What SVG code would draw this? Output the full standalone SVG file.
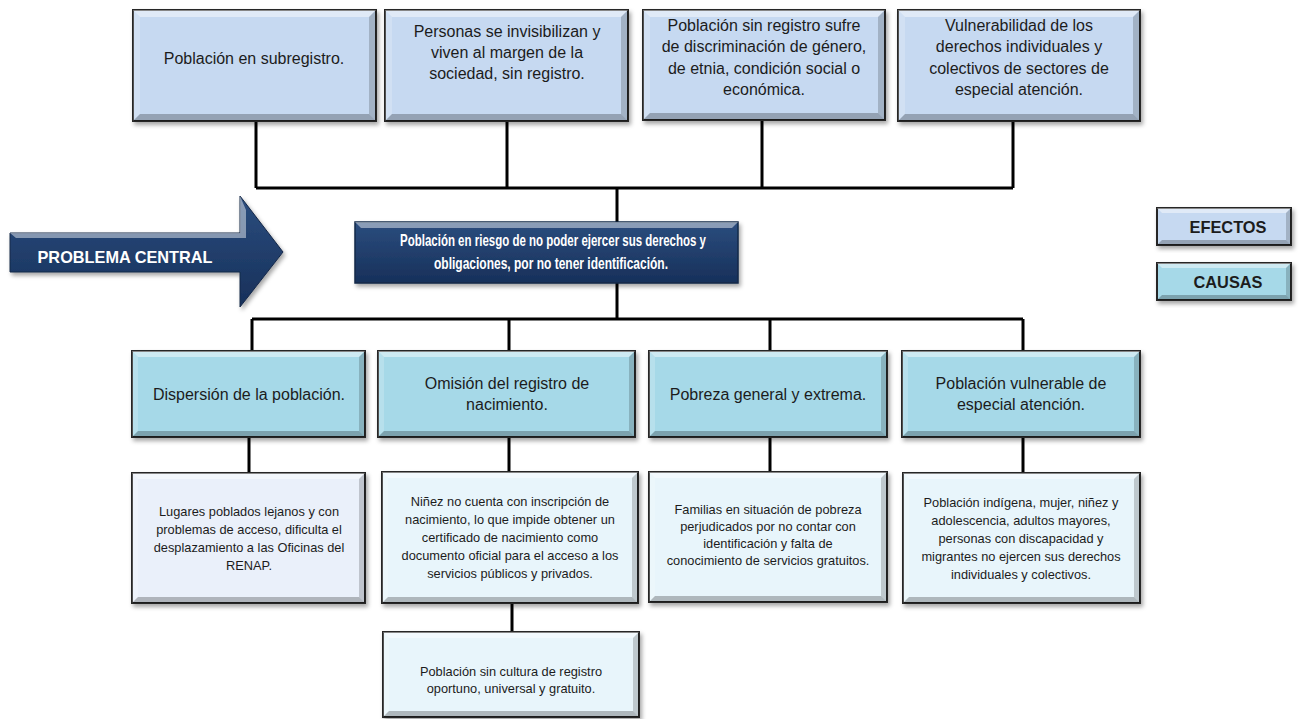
<svg xmlns="http://www.w3.org/2000/svg" width="1299" height="719" viewBox="0 0 1299 719">
<style>
.t{font-family:"Liberation Sans",Arial,sans-serif;fill:#1c1c1c;text-anchor:middle}
.e{font-size:16px}
.s{font-size:12.8px}
.w{font-family:"Liberation Sans",Arial,sans-serif;fill:#ffffff;font-weight:bold;text-anchor:middle}
.lg{font-family:"Liberation Sans",Arial,sans-serif;fill:#1c1c1c;font-weight:bold;text-anchor:middle;font-size:17px}
.box{stroke:#262626;stroke-width:2;filter:url(#sh)}
.ef{fill:#c6d9f1}
.ca{fill:#a6d9e8}
.sc{fill:#e8f5fb}
.sc1{fill:#eaf0fa}
.hl{fill:#ffffff;fill-opacity:.45}
.hs{fill:#ffffff;fill-opacity:.2}
.dk{fill:#000000;fill-opacity:.18}
.db{fill:#000000;fill-opacity:.25}
.cn{stroke:#000;stroke-width:3;fill:none}
</style>
<defs>
<filter id="sh" x="-10%" y="-10%" width="120%" height="130%">
<feDropShadow dx="2" dy="3" stdDeviation="2" flood-color="#000" flood-opacity=".35"/>
</filter>
<linearGradient id="navy" x1="0" y1="0" x2="0" y2="1">
<stop offset="0" stop-color="#2b4d7e"/>
<stop offset="1" stop-color="#17305a"/>
</linearGradient>
</defs>
<rect width="1299" height="719" fill="#ffffff"/>

<g id="connectors">
<path class="cn" d="M256 121V188M507 121V188M762 120V188M1013 121V188M256 188H1013M617 188V222"/>
<path class="cn" d="M617 283V319M252 319H1023M252 319V351M509 319V351M770 319V351M1023 319V351"/>
<path class="cn" d="M249 437V473M509 437V472M770 437V472M1023 437V473M512 603V632"/>
</g>

<g id="arrow">
<polygon points="10,233 240,233 240,196 283,252 240,307 240,272 10,272" fill="url(#navy)" stroke="#142848" stroke-width="1" filter="url(#sh)"/>
<polygon points="10,233 240,233 240,196 246,210 246,238 16,238" class="hl" fill-opacity=".15"/>
<text class="w" x="125" y="263" font-size="17" textLength="175" lengthAdjust="spacingAndGlyphs">PROBLEMA CENTRAL</text>
</g>

<g id="e1">
<rect class="box ef" x="133" y="10" width="243" height="111"/>
<path class="hl" d="M133 10H376L369 17H140Z"/><path class="hs" d="M133 10L140 17V114L133 121Z"/><path class="dk" d="M376 10V121L369 114V17Z"/><path class="db" d="M133 121H376L369 114H140Z"/>
<text class="t e" x="254" y="64">Población en subregistro.</text>
</g>
<g id="e2">
<rect class="box ef" x="385" y="10" width="243" height="111"/>
<path class="hl" d="M385 10H628L621 17H392Z"/><path class="hs" d="M385 10L392 17V114L385 121Z"/><path class="dk" d="M628 10V121L621 114V17Z"/><path class="db" d="M385 121H628L621 114H392Z"/>
<text class="t e" x="507" y="37">Personas se invisibilizan y</text>
<text class="t e" x="507" y="58">viven al margen de la</text>
<text class="t e" x="507" y="79">sociedad, sin registro.</text>
</g>
<g id="e3">
<rect class="box ef" x="643" y="10" width="242" height="110"/>
<path class="hl" d="M643 10H885L878 17H650Z"/><path class="hs" d="M643 10L650 17V113L643 120Z"/><path class="dk" d="M885 10V120L878 113V17Z"/><path class="db" d="M643 120H885L878 113H650Z"/>
<text class="t e" x="764" y="31">Población sin registro sufre</text>
<text class="t e" x="764" y="52">de discriminación de género,</text>
<text class="t e" x="764" y="74">de etnia, condición social o</text>
<text class="t e" x="764" y="95">económica.</text>
</g>
<g id="e4">
<rect class="box ef" x="898" y="10" width="242" height="111"/>
<path class="hl" d="M898 10H1140L1133 17H905Z"/><path class="hs" d="M898 10L905 17V114L898 121Z"/><path class="dk" d="M1140 10V121L1133 114V17Z"/><path class="db" d="M898 121H1140L1133 114H905Z"/>
<text class="t e" x="1019" y="31">Vulnerabilidad de los</text>
<text class="t e" x="1019" y="52">derechos individuales y</text>
<text class="t e" x="1019" y="74">colectivos de sectores de</text>
<text class="t e" x="1019" y="95">especial atención.</text>
</g>

<g id="central">
<rect x="355" y="222" width="383" height="61" fill="url(#navy)" stroke="#142848" stroke-width="1.5" filter="url(#sh)"/>
<path class="hl" fill-opacity=".12" d="M355 222H738L732 228H361Z"/>
<text class="w" x="553" y="246" font-size="16.5" textLength="306" lengthAdjust="spacingAndGlyphs">Población en riesgo de no poder ejercer sus derechos y</text>
<text class="w" x="551" y="269" font-size="16.5" textLength="234" lengthAdjust="spacingAndGlyphs">obligaciones, por no tener identificación.</text>
</g>

<g id="c1">
<rect class="box ca" x="132" y="351" width="233" height="86"/>
<path class="hl" d="M132 351H365L359 357H138Z"/><path class="hs" d="M132 351L138 357V431L132 437Z"/><path class="dk" d="M365 351V437L359 431V357Z"/><path class="db" d="M132 437H365L359 431H138Z"/>
<text class="t e" x="249" y="400">Dispersión de la población.</text>
</g>
<g id="c2">
<rect class="box ca" x="378" y="351" width="257" height="86"/>
<path class="hl" d="M378 351H635L629 357H384Z"/><path class="hs" d="M378 351L384 357V431L378 437Z"/><path class="dk" d="M635 351V437L629 431V357Z"/><path class="db" d="M378 437H635L629 431H384Z"/>
<text class="t e" x="507" y="389">Omisión del registro de</text>
<text class="t e" x="507" y="410">nacimiento.</text>
</g>
<g id="c3">
<rect class="box ca" x="649" y="351" width="238" height="86"/>
<path class="hl" d="M649 351H887L881 357H655Z"/><path class="hs" d="M649 351L655 357V431L649 437Z"/><path class="dk" d="M887 351V437L881 431V357Z"/><path class="db" d="M649 437H887L881 431H655Z"/>
<text class="t e" x="768" y="400">Pobreza general y extrema.</text>
</g>
<g id="c4">
<rect class="box ca" x="902" y="351" width="238" height="86"/>
<path class="hl" d="M902 351H1140L1134 357H908Z"/><path class="hs" d="M902 351L908 357V431L902 437Z"/><path class="dk" d="M1140 351V437L1134 431V357Z"/><path class="db" d="M902 437H1140L1134 431H908Z"/>
<text class="t e" x="1021" y="389">Población vulnerable de</text>
<text class="t e" x="1021" y="410">especial atención.</text>
</g>

<g id="s1">
<rect class="box sc1" x="132" y="473" width="233" height="130"/>
<path class="hl" d="M132 473H365L359 479H138Z"/><path class="hs" d="M132 473L138 479V597L132 603Z"/><path class="dk" d="M365 473V603L359 597V479Z"/><path class="db" d="M132 603H365L359 597H138Z"/>
<text class="t s" x="249" y="516">Lugares poblados  lejanos y con</text>
<text class="t s" x="249" y="534">problemas  de acceso,  dificulta  el</text>
<text class="t s" x="249" y="552">desplazamiento  a las Oficinas  del</text>
<text class="t s" x="249" y="570">RENAP.</text>
</g>
<g id="s2">
<rect class="box sc" x="382" y="472" width="256" height="131"/>
<path class="hl" d="M382 472H638L632 478H388Z"/><path class="hs" d="M382 472L388 478V597L382 603Z"/><path class="dk" d="M638 472V603L632 597V478Z"/><path class="db" d="M382 603H638L632 597H388Z"/>
<text class="t s" x="510" y="506">Niñez no cuenta  con inscripción  de</text>
<text class="t s" x="510" y="524">nacimiento,  lo que impide  obtener un</text>
<text class="t s" x="510" y="542">certificado  de nacimiento  como</text>
<text class="t s" x="510" y="560">documento  oficial  para el acceso a los</text>
<text class="t s" x="510" y="578">servicios públicos  y privados.</text>
</g>
<g id="s3">
<rect class="box sc" x="649" y="472" width="238" height="130"/>
<path class="hl" d="M649 472H887L881 478H655Z"/><path class="hs" d="M649 472L655 478V596L649 602Z"/><path class="dk" d="M887 472V602L881 596V478Z"/><path class="db" d="M649 602H887L881 596H655Z"/>
<text class="t s" x="768" y="514">Familias  en situación  de pobreza</text>
<text class="t s" x="768" y="531">perjudicados  por no contar con</text>
<text class="t s" x="768" y="548">identificación   y falta  de</text>
<text class="t s" x="768" y="565">conocimiento  de servicios gratuitos.</text>
</g>
<g id="s4">
<rect class="box sc" x="903" y="473" width="237" height="130"/>
<path class="hl" d="M903 473H1140L1134 479H909Z"/><path class="hs" d="M903 473L909 479V597L903 603Z"/><path class="dk" d="M1140 473V603L1134 597V479Z"/><path class="db" d="M903 603H1140L1134 597H909Z"/>
<text class="t s" x="1021" y="507">Población  indígena,  mujer,  niñez y</text>
<text class="t s" x="1021" y="525">adolescencia,  adultos  mayores,</text>
<text class="t s" x="1021" y="543">personas con discapacidad  y</text>
<text class="t s" x="1021" y="561">migrantes  no ejercen sus derechos</text>
<text class="t s" x="1021" y="579">individuales  y colectivos.</text>
</g>
<g id="s5">
<rect class="box sc" x="383" y="632" width="256" height="85"/>
<path class="hl" d="M383 632H639L633 638H389Z"/><path class="hs" d="M383 632L389 638V711L383 717Z"/><path class="dk" d="M639 632V717L633 711V638Z"/><path class="db" d="M383 717H639L633 711H389Z"/>
<text class="t s" x="511" y="676">Población  sin cultura  de registro</text>
<text class="t s" x="511" y="693">oportuno,  universal  y gratuito.</text>
</g>

<g id="legend-efectos">
<rect class="box ef" x="1157" y="208" width="134" height="37"/>
<path class="hl" d="M1157 208H1291L1286 213H1162Z"/><path class="dk" d="M1291 208V245L1286 240V213Z"/><path class="db" d="M1157 245H1291L1286 240H1162Z"/>
<text class="lg" x="1228" y="233" textLength="77" lengthAdjust="spacingAndGlyphs">EFECTOS</text>
</g>
<g id="legend-causas">
<rect class="box ca" x="1157" y="263" width="134" height="37"/>
<path class="hl" d="M1157 263H1291L1286 268H1162Z"/><path class="dk" d="M1291 263V300L1286 295V268Z"/><path class="db" d="M1157 300H1291L1286 295H1162Z"/>
<text class="lg" x="1228" y="288" textLength="69" lengthAdjust="spacingAndGlyphs">CAUSAS</text>
</g>
</svg>
